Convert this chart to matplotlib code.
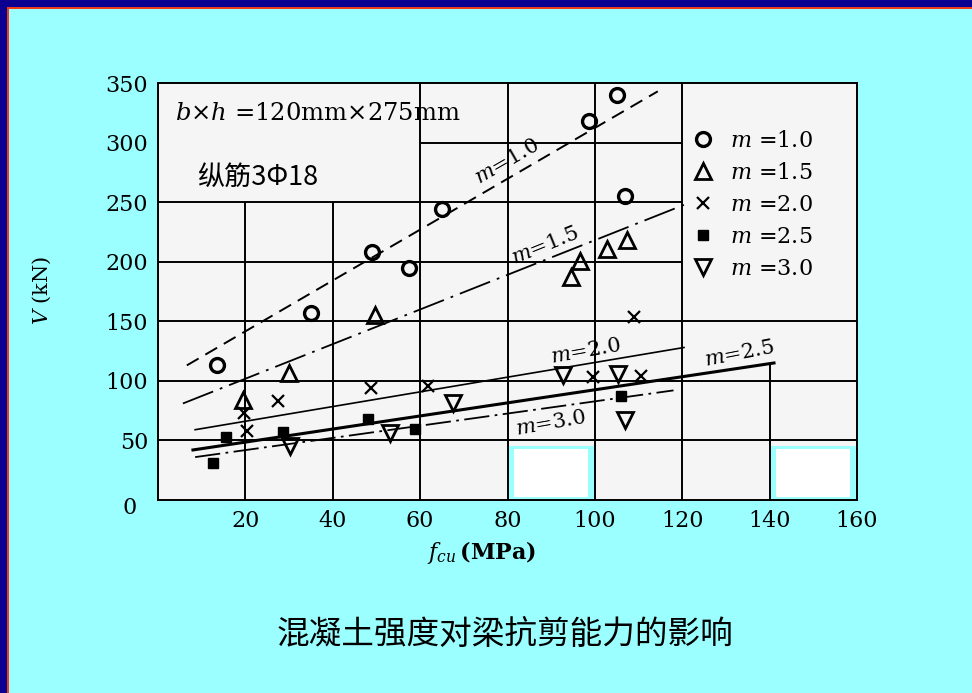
import matplotlib
matplotlib.use("Agg")
import matplotlib.pyplot as plt
import numpy as np
from matplotlib.patches import Rectangle

plt.rcParams['mathtext.fontset'] = 'dejavuserif'
plt.rcParams['font.family'] = ['DejaVu Serif', 'DejaVu Sans']

# measured points, f_cu (MPa) vs V (kN)
x_m10 = [13.5, 35, 49, 57.4, 65, 98.6, 105, 107]
y_m10 = [113, 157, 208, 195, 244, 318, 340, 255]
x_m15 = [19.5, 30, 49.7, 94.5, 96.6, 102.7, 107.3]
y_m15 = [84, 107, 155, 187, 201, 211, 218]
x_m20 = [19.7, 20.3, 27.5, 48.7, 61.8, 109, 99.5, 110.5]
y_m20 = [73, 58, 83, 94, 96, 154, 103, 104]
x_m25 = [12.6, 15.6, 28.6, 48, 58.8, 106]
y_m25 = [31, 53, 57, 68, 60, 87]
x_m30 = [30.2, 53, 67.5, 92.7, 105.3, 107]
y_m30 = [45, 56, 81, 105, 106, 67]

# fitted lines: (x start, x end), (y start, y end)
line_m10 = ([6.6, 114.4], [113, 343])
line_m15 = ([5.7, 120.6], [81, 248])
line_m20 = ([8.5, 120.4], [59, 128])
line_m25 = ([8, 141], [42, 115])
line_m30 = ([8.5, 118], [36, 92])

legend_labels = [r'$m$ =1.0', r'$m$ =1.5', r'$m$ =2.0', r'$m$ =2.5', r'$m$ =3.0']
xticks = [20, 40, 60, 80, 100, 120, 140, 160]
yticks = [50, 100, 150, 200, 250, 300, 350]

cyan = '#9cffff'
fig = plt.figure(figsize=(9.72, 6.93), dpi=100, facecolor=cyan)

# slide border (blue with red inner line), top and left
fig.patches.append(Rectangle((0, 686/693), 1, 7/693, transform=fig.transFigure,
                             facecolor='#0b0090', edgecolor='none'))
fig.patches.append(Rectangle((0, 0), 7/972, 1, transform=fig.transFigure,
                             facecolor='#0b0090', edgecolor='none'))
fig.patches.append(Rectangle((7/972, 684/693), 1, 2/693, transform=fig.transFigure,
                             facecolor='#f03c18', edgecolor='none'))
fig.patches.append(Rectangle((7/972, 0), 2/972, 686/693, transform=fig.transFigure,
                             facecolor='#f03c18', edgecolor='none'))

ax = fig.add_axes([158/972, 1 - 500/693, 699/972, 417/693])
ax.set_facecolor('#f5f5f5')
ax.set_xlim(0, 160)
ax.set_ylim(0, 350)

# grid, broken where the note box and legend sit
gk = dict(color='black', lw=1.4, zorder=1)
ax.vlines([20, 40], 0, 250, **gk)
ax.vlines([60, 80, 100, 120], 0, 350, **gk)
ax.vlines([140], 0, 115, **gk)
ax.hlines([50, 100, 150], 0, 160, **gk)
ax.hlines([200, 250], 0, 120, **gk)
ax.hlines([300], 60, 120, **gk)

# scanner patches at the bottom
for x0 in (80, 140):
    ax.add_patch(Rectangle((x0 + 0.3, 0.3), 19.4, 45, facecolor=cyan, edgecolor='none', zorder=1.5))
    ax.add_patch(Rectangle((x0 + 1.5, 2.5), 17, 40, facecolor='white', edgecolor='none', zorder=1.6))

# fitted lines
ax.plot(*line_m10, color='black', lw=1.4, dashes=(7, 4), zorder=2)
ax.plot(*line_m15, color='black', lw=1.3, dashes=(18, 4, 1.5, 4), zorder=2)
ax.plot(*line_m20, color='black', lw=1.2, zorder=2)
ax.plot(*line_m25, color='black', lw=2.2, zorder=2)
ax.plot(*line_m30, color='black', lw=1.3, dashes=(14, 3, 1.5, 3), zorder=2)

# measured points
h1, = ax.plot(x_m10, y_m10, 'o', ms=10, mfc='none', mec='black', mew=2.4, zorder=3)
h2, = ax.plot(x_m15, y_m15, '^', ms=11, mfc='none', mec='black', mew=2.0, zorder=3)
h3, = ax.plot(x_m20, y_m20, 'x', ms=8, mec='black', mew=1.6, zorder=3)
h4, = ax.plot(x_m25, y_m25, 's', ms=7.5, mfc='black', mec='black', zorder=3)
h5, = ax.plot(x_m30, y_m30, 'v', ms=11, mfc='none', mec='black', mew=2.0, zorder=3)

ax.legend([h1, h2, h3, h4, h5], legend_labels, loc='upper left',
          bbox_to_anchor=(0.748, 0.915), frameon=False, fontsize=16,
          handlelength=1.0, handletextpad=0.7, labelspacing=0.45, borderpad=0)

# line labels
lk = dict(fontsize=15, ha='center', va='center', zorder=4)
ax.text(80, 284, r'$m$=1.0', rotation=30, **lk)
ax.text(88.6, 213, r'$m$=1.5', rotation=22, **lk)
ax.text(98, 125, r'$m$=2.0', rotation=10, **lk)
ax.text(133, 123, r'$m$=2.5', rotation=11, **lk)
ax.text(90, 64, r'$m$=3.0', rotation=10, **lk)

ax.text(4, 324, r'$b$×$h$ =120mm×275mm', fontsize=17.5, va='center', ha='left')
ax.text(9, 271, '纵筋3Φ18', fontsize=19.5, va='center', ha='left',
        family=['Noto Sans CJK SC', 'DejaVu Sans'])

for s in ax.spines.values():
    s.set_linewidth(1.4)
ax.set_xticks(xticks)
ax.set_yticks(yticks)
ax.tick_params(length=0, labelsize=16, pad=7)
ax.text(-0.04, -0.018, '0', transform=ax.transAxes, fontsize=16, ha='center', va='center')

fig.text(42/972, 1 - 290/693, r'$V$ (kN)', rotation=90, fontsize=15, ha='center', va='center')
fig.text(482/972, 1 - 552/693, r'$f_{cu}\,\mathbf{(MPa)}$', fontsize=16, ha='center', va='center')
fig.text(505/972, 1 - 635/693, '混凝土强度对梁抗剪能力的影响', fontsize=23.5,
         ha='center', va='center', family=['Noto Sans CJK SC', 'DejaVu Sans'])

fig.savefig('out.png', dpi=100, facecolor=cyan)
